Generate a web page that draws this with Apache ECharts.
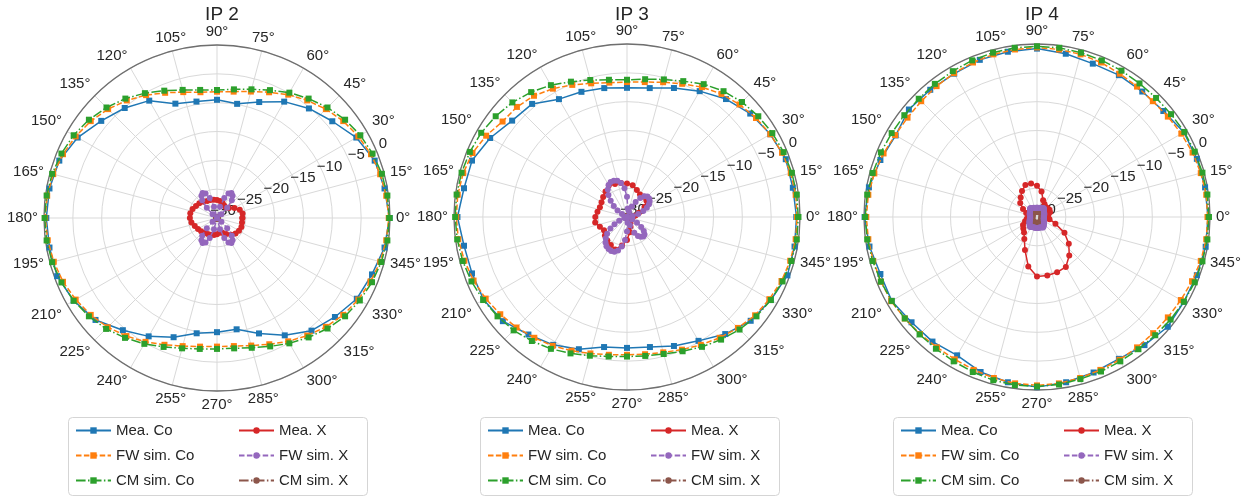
<!DOCTYPE html>
<html><head><meta charset="utf-8">
<script src="https://cdn.jsdelivr.net/npm/echarts@6/dist/echarts.min.js"></script>
<style>html,body{margin:0;padding:0;background:#fff}#c{width:1249px;height:498px}</style>
</head><body><div id="c"></div><script>
// ---------- data ----------
const ANG10 = [0,10,20,30,40,50,60,70,80,90,100,110,120,130,140,150,160,170,180,190,200,210,220,230,240,250,260,270,280,290,300,310,320,330,340,350];
const ANG7 = [0,7.5,15,22.5,30,37.5,45,52.5,60,67.5,75,82.5,90,97.5,105,112.5,120,127.5,135,142.5,150,157.5,165,172.5,180,187.5,195,202.5,210,217.5,225,232.5,240,247.5,255,262.5,270,277.5,285,292.5,300,307.5,315,322.5,330,337.5,345,352.5];
const ANG5 = [0,5,10,15,20,25,30,35,40,45,50,55,60,65,70,75,80,85,90,95,100,105,110,115,120,125,130,135,140,145,150,155,160,165,170,175,180,185,190,195,200,205,210,215,220,225,230,235,240,245,250,255,260,265,270,275,280,285,290,295,300,305,310,315,320,325,330,335,340,345,350,355];

const TITLES = ['IP 2','IP 3','IP 4'];
const NAMES = ['Mea. Co','FW sim. Co','CM sim. Co','Mea. X','FW sim. X','CM sim. X'];
const LEGEND_COL1 = ['Mea. Co','FW sim. Co','CM sim. Co'];
const LEGEND_COL2 = ['Mea. X','FW sim. X','CM sim. X'];
const R_MIN = -30, R_MAX = 0, R_STEP = 5, A_STEP = 15;

// IP 2
const ip2MeaCo = [-0.1,-0.5,-0.9,-2.1,-3.9,-5.2,-6.7,-8.6,-9.9,-9.5,-9.5,-8.9,-6.5,-5.1,-3.8,-2.1,-0.9,-0.5,-0.4,-0.5,-0.5,-1.3,-2.5,-4.6,-6.3,-8.0,-9.7,-10.2,-10.4,-8.7,-6.5,-4.5,-3.3,-2.0,-1.4,-0.5];
const ip2FwCo = [-0.2,-0.4,-0.7,-1.1,-1.7,-2.4,-3.3,-4.3,-5.3,-6.4,-7.3,-7.9,-8.1,-8.0,-7.4,-6.5,-5.4,-4.3,-3.3,-2.4,-1.7,-1.1,-0.6,-0.3,-0.2,-0.4,-0.7,-1.1,-1.7,-2.4,-3.2,-4.2,-5.2,-6.2,-7.0,-7.5,-7.7,-7.6,-7.1,-6.3,-5.3,-4.3,-3.3,-2.4,-1.7,-1.2,-0.7,-0.4];
const ip2CmCo = [-0.1,-0.2,-0.4,-0.8,-1.3,-2.0,-2.9,-3.9,-4.9,-6.0,-6.9,-7.5,-7.8,-7.6,-7.0,-6.1,-5.0,-3.9,-2.9,-2.0,-1.3,-0.8,-0.4,-0.2,-0.1,-0.2,-0.4,-0.8,-1.3,-2.0,-2.8,-3.8,-4.8,-5.8,-6.6,-7.1,-7.3,-7.2,-6.7,-5.9,-4.9,-3.9,-2.9,-2.0,-1.4,-0.9,-0.5,-0.2];
const ip2MeaX = [-25.6,-25.5,-25.8,-26.5,-27.3,-27.6,-27.5,-27.2,-27.0,-26.9,-26.8,-26.7,-26.6,-26.3,-26.0,-25.8,-25.5,-25.3,-25.3,-25.5,-25.9,-26.2,-26.4,-26.6,-26.8,-26.9,-27.0,-27.2,-27.4,-27.3,-26.8,-26.2,-25.8,-25.6,-25.5,-25.6];
const ip2FwX = [-30,-30,-30,-30,-30,-30,-30,-30,-29.0,-27.5,-26.0,-25.3,-25.0,-25.3,-26.3,-28.0,-30,-30,-30,-30,-30,-28.0,-26.3,-25.3,-25.0,-25.3,-26.0,-27.5,-29.0,-30,-30,-30,-30,-30,-30,-30,-30,-30,-30,-30,-30,-30,-30,-30,-29.0,-27.5,-26.0,-25.3,-25.0,-25.3,-26.3,-28.0,-30,-30,-30,-30,-30,-28.0,-26.3,-25.3,-25.0,-25.3,-26.0,-27.5,-29.0,-30,-30,-30,-30,-30,-30,-30];
const ip2CmX = [-30,-30,-29.9,-29.9,-29.8,-29.8,-29.8,-29.9,-30,-30,-30,-29.9,-29.8,-29.8,-29.8,-29.9,-29.9,-30,-30,-30,-29.9,-29.9,-29.8,-29.8,-29.8,-29.9,-30,-30,-30,-29.9,-29.8,-29.8,-29.8,-29.9,-29.9,-30];

// IP 3
const ip3MeaCo = [-0.6,-0.8,-0.7,-1.3,-2.1,-3.3,-4.8,-6.2,-7.3,-7.6,-7.3,-6.9,-6.4,-4.4,-4.0,-2.6,-1.4,-1.3,-0.6,-1.3,-1.4,-1.3,-1.9,-3.4,-4.4,-5.6,-7.1,-7.3,-7.1,-6.2,-5.2,-3.5,-2.0,-1.2,-0.4,-0.5];
const ip3FwCo = [-0.5,-0.5,-0.6,-0.9,-1.3,-1.8,-2.4,-3.1,-4.0,-5.0,-5.8,-6.4,-6.6,-6.5,-6.0,-5.2,-4.3,-3.5,-3.0,-2.8,-1.8,-1.0,-0.6,-0.4,-0.4,-0.5,-0.8,-1.2,-1.7,-2.3,-2.9,-3.6,-4.2,-4.9,-5.5,-5.9,-6.1,-6.0,-5.7,-5.1,-4.4,-3.6,-2.8,-2.0,-1.5,-1.0,-0.7,-0.5];
const ip3CmCo = [-0.3,-0.3,-0.4,-0.6,-0.9,-1.3,-1.8,-2.5,-3.4,-4.5,-5.3,-5.9,-6.2,-6.0,-5.4,-4.6,-3.6,-2.7,-1.9,-1.3,-0.8,-0.5,-0.3,-0.2,-0.2,-0.3,-0.5,-0.8,-1.2,-1.7,-2.2,-2.9,-3.6,-4.4,-5.1,-5.6,-5.8,-5.7,-5.4,-4.8,-4.0,-3.2,-2.4,-1.7,-1.2,-0.8,-0.5,-0.3];
const ip3MeaX = [-29.0,-28.5,-27.8,-26.5,-25.6,-25.4,-25.5,-25.0,-24.4,-24.2,-24.0,-23.9,-23.7,-24.2,-24.6,-24.9,-25.0,-24.8,-24.5,-24.4,-25.0,-25.4,-25.0,-24.7,-24.4,-24.0,-25.0,-26.0,-27.3,-28.2,-28.8,-29.2,-29.4,-29.5,-29.5,-29.3];
const ip3FwX = [-30,-30,-29,-28,-27,-26.2,-25.6,-25.2,-25.0,-25.0,-25.3,-26,-27,-28,-29,-30,-30,-28.5,-26.5,-25,-24,-23.5,-23.3,-23.3,-23.6,-24.2,-25,-26,-27,-28,-29,-30,-30,-30,-30,-30,-30,-30,-30,-30,-29.5,-28.5,-27.5,-26.5,-25.5,-24.8,-24.2,-23.8,-23.6,-23.5,-23.6,-24,-24.8,-26,-27.5,-29,-30,-30,-28.5,-27,-26.2,-25.8,-25.6,-25.7,-26.2,-27,-28,-29,-30,-30,-30,-30];
const ip3CmX = [-30,-30,-29.9,-29.9,-29.8,-29.8,-29.9,-30,-30,-29.9,-29.8,-29.8,-29.8,-29.9,-30,-30,-30,-30,-30,-30,-30,-29.9,-29.8,-29.8,-29.8,-29.9,-30,-30,-29.9,-29.8,-29.8,-29.9,-30,-30,-30,-30];

// IP 4
const ip4MeaCo = [-0.35,-0.4,-0.5,-0.6,-1.4,-1.6,-1.6,-1.7,-1.25,-0.8,-0.9,-1.0,-1.3,-1.2,-1.0,-1.7,-1.1,-0.4,-0.1,-0.5,-1.1,-0.9,-1.6,-1.8,-2.3,-1.4,-0.9,-0.5,-0.9,-1.3,-1.6,-1.0,-0.4,-0.6,-0.5,-0.3];
const ip4FwCo = [-0.4,-0.4,-0.6,-0.8,-1.1,-1.4,-1.6,-1.5,-1.3,-1.0,-0.8,-0.7,-0.6,-0.7,-0.8,-1.0,-1.2,-1.4,-1.6,-1.7,-1.6,-1.2,-0.8,-0.5,-0.4,-0.5,-0.6,-0.7,-0.8,-1.1,-1.3,-1.5,-1.5,-1.3,-1.1,-0.9,-0.8,-0.9,-1.1,-1.3,-1.4,-1.5,-1.5,-1.4,-1.2,-0.9,-0.6,-0.4];
const ip4CmCo = [-0.2,-0.2,-0.3,-0.4,-0.5,-0.7,-0.8,-0.8,-0.7,-0.6,-0.5,-0.4,-0.4,-0.4,-0.5,-0.6,-0.8,-0.9,-1.0,-1.0,-0.9,-0.7,-0.5,-0.3,-0.2,-0.3,-0.5,-0.7,-0.9,-1.1,-1.2,-1.2,-1.1,-0.9,-0.7,-0.6,-0.6,-0.7,-0.9,-1.0,-1.1,-1.1,-1.0,-0.8,-0.6,-0.4,-0.3,-0.2];
const ip4MeaX = [-28.2,-28.0,-27.6,-27.5,-27.6,-27.7,-27.4,-26.9,-25.5,-24.6,-24.1,-24.1,-24.8,-25.6,-26.2,-27.2,-28.0,-28.5,-28.6,-28.2,-27.8,-27.2,-26.9,-26.5,-25.6,-23.9,-21.3,-19.7,-19.7,-19.8,-20.0,-21.3,-22.8,-24.5,-26.6,-27.8];
const ip4FwX = [-28.8,-28.8,-28.8,-28.7,-28.7,-28.6,-28.6,-28.5,-28.4,-28.3,-28.1,-28.1,-28.2,-28.3,-28.3,-28.4,-28.4,-28.4,-28.4,-28.4,-28.4,-28.4,-28.3,-28.3,-28.2,-28.1,-28.1,-28.3,-28.4,-28.5,-28.6,-28.6,-28.7,-28.7,-28.8,-28.8,-28.8,-28.8,-28.8,-28.7,-28.7,-28.6,-28.5,-28.4,-28.3,-28.2,-28.0,-27.9,-28.0,-28.1,-28.1,-28.1,-28.1,-28.1,-28.1,-28.1,-28.1,-28.1,-28.1,-28.0,-27.9,-28.0,-28.2,-28.3,-28.4,-28.5,-28.6,-28.7,-28.7,-28.8,-28.8,-28.8];
const ip4CmX = [-29.2,-29.2,-29.1,-29.1,-29.0,-29.0,-29.0,-29.0,-29.1,-29.1,-29.1,-29.0,-29.0,-29.0,-29.1,-29.1,-29.2,-29.2,-29.2,-29.2,-29.1,-29.1,-29.0,-29.0,-29.0,-29.0,-29.0,-29.0,-29.0,-29.0,-29.0,-29.0,-29.1,-29.1,-29.2,-29.2];

const CHARTS = [
  [ip2MeaCo, ip2FwCo, ip2CmCo, ip2MeaX, ip2FwX, ip2CmX],
  [ip3MeaCo, ip3FwCo, ip3CmCo, ip3MeaX, ip3FwX, ip3CmX],
  [ip4MeaCo, ip4FwCo, ip4CmCo, ip4MeaX, ip4FwX, ip4CmX]
];
const SERIES_ANG = [ANG10, ANG7, ANG7, ANG10, ANG5, ANG10];

// ---------- layout / style ----------
const CENTERS = [[217,218],[627,217],[1037,217]];
const RADIUS = 173;
const LEGEND_BOX_LEFT = [68, 480, 893];
const LEGEND_BOX = {top: 417, width: 299, height: 78, padX: 7, colGap: 163, padY: 6};
const FONT = 'Liberation Sans, Arial, Helvetica, sans-serif';
const TXT = '#262626';
const STYLES = [
  {color:'#1f77b4', type:'solid', symbol:'rect'},
  {color:'#ff7f0e', type:[5.5,2.4], symbol:'rect'},
  {color:'#2ca02c', type:[9.6,2.4,1.5,2.4], symbol:'rect'},
  {color:'#d62728', type:'solid', symbol:'circle'},
  {color:'#9467bd', type:[5.5,2.4], symbol:'circle'},
  {color:'#8c564b', type:[9.6,2.4,1.5,2.4], symbol:'circle'}
];
const minus = v => (v < 0 ? '\u2212' + (-v) : String(v));

function pairs(vals, angs) {
  const d = vals.map((v, k) => [v, angs[k]]);
  d.push([vals[0], angs[0] + 360]);
  return d;
}

const polar = [], angleAxis = [], radiusAxis = [], series = [], title = [], legend = [], graphic = [];
CENTERS.forEach((c, i) => {
  polar.push({center: c, radius: RADIUS});
  angleAxis.push({
    polarIndex: i, type: 'value', min: 0, max: 360, interval: A_STEP,
    startAngle: 0, clockwise: false,
    axisLine: {lineStyle: {color: '#6f6f6f', width: 1.3}},
    axisTick: {show: false},
    axisLabel: {color: TXT, fontSize: 15, fontFamily: FONT, margin: 6,
      formatter: v => (v === 360 ? '' : v + '°')},
    splitLine: {lineStyle: {color: '#d9d9d9', width: 1}}
  });
  radiusAxis.push({
    polarIndex: i, type: 'value', min: R_MIN, max: R_MAX, interval: R_STEP,
    axisLine: {show: false}, axisTick: {show: false}, axisLabel: {show: false},
    splitLine: {show: true, lineStyle: {color: '#d9d9d9', width: 1}}
  });
  title.push({text: TITLES[i], left: c[0], top: 0, textAlign: 'center',
    textStyle: {fontSize: 19, fontWeight: 'normal', color: TXT, fontFamily: FONT}});
  CHARTS[i].forEach((vals, s) => {
    const st = STYLES[s];
    series.push({
      type: 'line', name: NAMES[s], coordinateSystem: 'polar', polarIndex: i,
      data: pairs(vals, SERIES_ANG[s]),
      symbol: st.symbol, symbolSize: 6, showSymbol: true, showAllSymbol: true,
      z: s === 5 ? 1 : 2 + s * 0.01,
      lineStyle: {color: st.color, width: 1.5, type: st.type},
      itemStyle: {color: st.color},
      emphasis: {disabled: true}, clip: false
    });
  });
  // legend frame
  const bx = LEGEND_BOX_LEFT[i];
  graphic.push({type: 'rect', left: bx, top: LEGEND_BOX.top, z: 0,
    shape: {width: LEGEND_BOX.width, height: LEGEND_BOX.height, r: 4},
    style: {fill: '#fff', stroke: '#d5d5d5', lineWidth: 1}});
  [LEGEND_COL1, LEGEND_COL2].forEach((names, col) => {
    legend.push({
      left: bx + LEGEND_BOX.padX + col * LEGEND_BOX.colGap, top: LEGEND_BOX.top + LEGEND_BOX.padY,
      orient: 'vertical', itemGap: 10, itemWidth: 35, itemHeight: 8, padding: 0,
      selectedMode: false, z: 5,
      textStyle: {fontSize: 15, color: TXT, fontFamily: FONT},
      data: names
    });
  });
});
// radius tick labels along 22.5°
CENTERS.forEach((c, i) => {
  polar.push({center: c, radius: RADIUS});
  angleAxis.push({polarIndex: 3 + i, type: 'value', min: 0, max: 360, startAngle: 22.5, show: false});
  radiusAxis.push({
    polarIndex: 3 + i, type: 'value', min: R_MIN, max: R_MAX, interval: R_STEP,
    axisLine: {show: false}, axisTick: {show: false}, splitLine: {show: false},
    axisLabel: {color: TXT, fontSize: 15, fontFamily: FONT, formatter: minus,
      margin: 0, align: 'center', verticalAlign: 'bottom', padding: [0, 0, 0, 12]}
  });
});

const chart = echarts.init(document.getElementById('c'), null, {renderer: 'canvas'});
chart.setOption({
  animation: false, backgroundColor: '#fff',
  title, polar, angleAxis, radiusAxis, legend, series, graphic
});
</script></body></html>
